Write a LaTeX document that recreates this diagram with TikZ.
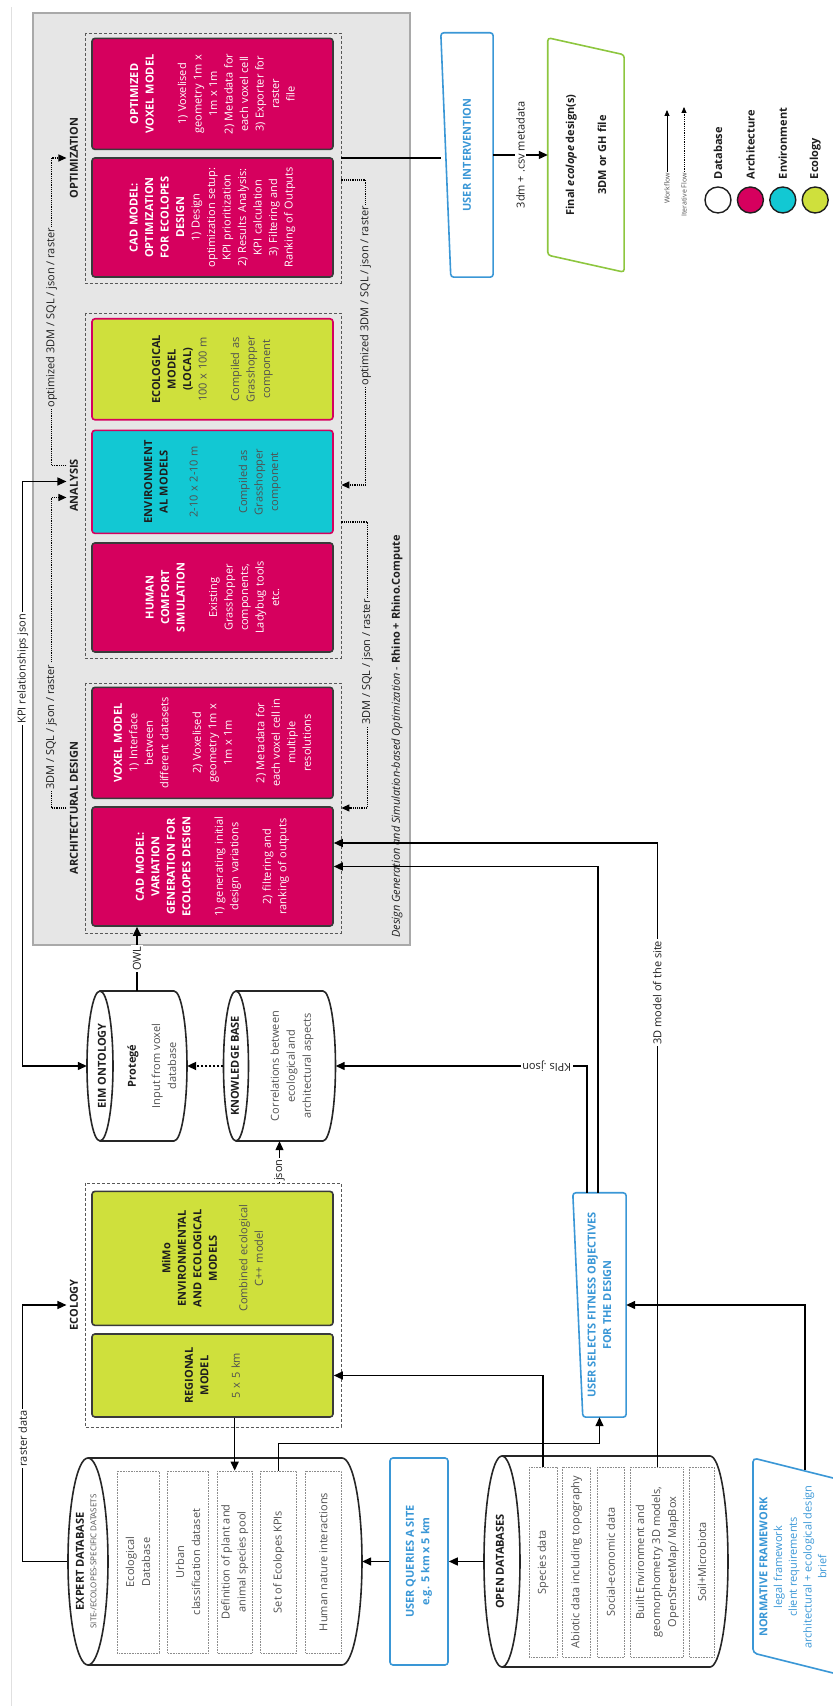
\documentclass[tikz,border=0pt]{standalone}
\usepackage{fontspec}
\setmainfont{Open Sans}
\usetikzlibrary{positioning,arrows.meta,calc}

\definecolor{archmag}{HTML}{D6005E}
\definecolor{envcyan}{HTML}{12C8D3}
\definecolor{ecogreen}{HTML}{CFE03C}
\definecolor{userblue}{HTML}{3A97D6}
\definecolor{finalgreen}{HTML}{8DC63F}
\definecolor{designfill}{HTML}{E6E6E6}
\definecolor{designline}{HTML}{A9A9A9}
\definecolor{boxline}{HTML}{3A3A3A}
\definecolor{titleink}{HTML}{1E1E1E}
\definecolor{bodyink}{HTML}{505050}
\definecolor{itemline}{HTML}{8C8C8C}

\newcommand{\boxfont}{\fontsize{11}{15.5}\selectfont}
\newcommand{\itemfont}{\fontsize{11}{16}\selectfont}

% database drum: centre x, x radius, top y, bottom y, y radius
\newcommand{\dbdrum}[5]{%
  \draw[dbline] (#1-#2,#3) -- (#1-#2,#4) arc[start angle=180, end angle=360, x radius=#2, y radius=#5] -- (#1+#2,#3);
  \draw[dbline] (#1,#3) ellipse [x radius=#2, y radius=#5];}

\tikzstyle{designarea} = [draw=designline, fill=designfill, line width=2pt, minimum width=932pt, minimum height=377pt]
\tikzstyle{grpbox} = [draw=boxline!85, dash pattern=on 3pt off 2pt, line width=0.8pt, minimum height=256pt]
\tikzstyle{archbox} = [draw=boxline, line width=1.6pt, rounded corners=3pt, fill=archmag, text=white, minimum height=241pt, inner xsep=3pt, align=center, font=\boxfont]
\tikzstyle{envbox} = [archbox, fill=envcyan, draw=archmag, text=bodyink]
\tikzstyle{ecobox} = [archbox, fill=ecogreen, text=bodyink]
\tikzstyle{ecolocbox} = [ecobox, draw=archmag]
\tikzstyle{grplabel} = [font=\bfseries\fontsize{11}{13}\selectfont, text=titleink]
\tikzstyle{dbitem} = [draw=itemline, densely dotted, line width=0.6pt, align=center, font=\itemfont, text=bodyink, inner sep=1pt]
\tikzstyle{dbline} = [draw=black!85, line width=1.6pt, fill=white]
\tikzstyle{dbspan} = [draw=none, inner sep=0pt]
\tikzstyle{dbtitle} = [font=\bfseries\fontsize{11}{13}\selectfont, text=titleink, inner sep=1pt]
\tikzstyle{dbtext} = [align=center, font=\itemfont, text=bodyink]
\tikzstyle{userbox} = [draw=none, align=center, text=userblue, font=\bfseries\boxfont]
\tikzstyle{userline} = [draw=userblue, line width=1.6pt, rounded corners=3pt]
\tikzstyle{flow} = [draw=black, line width=1.4pt, -{Triangle[length=9pt,width=8pt]}]
\tikzstyle{bothflow} = [flow, {Triangle[length=9pt,width=8pt]}-{Triangle[length=9pt,width=8pt]}]
\tikzstyle{kbflow} = [draw=black, line width=2pt, dotted, -{Triangle[length=9pt,width=8pt]}]
\tikzstyle{iterflow} = [draw=black, line width=1.2pt, densely dotted, -{Triangle[length=8pt,width=7pt]}]
\tikzstyle{flowlabel} = [font=\fontsize{11}{13}\selectfont, text=titleink, inner sep=1.5pt]
\tikzstyle{legdot} = [circle, draw=titleink, line width=1.4pt, minimum size=26pt, inner sep=0pt]
\tikzstyle{legtext} = [font=\bfseries\fontsize{11}{13}\selectfont, text=titleink, inner sep=0pt]
\tikzstyle{legsmall} = [font=\fontsize{7}{8}\selectfont, text=bodyink, anchor=east, inner sep=1pt]

\begin{document}
\begin{tikzpicture}[x=1pt, y=1pt, rotate=90, transform shape]
\useasboundingbox (0,0) rectangle (1708,833);
\draw[black!12, line width=0.8pt] (2,822) -- (1701,822);

% design generation area
\node[designarea] (design) at (1229,611.5) {};
\node[anchor=west, font=\fontsize{11}{13}\selectfont, text=titleink, inner sep=0pt] (caption) at (770,436)
  {\itshape Design Generation and Simulation-based Optimization - \upshape\bfseries Rhino + Rhino.Compute};

\node[grpbox, minimum width=250pt] (archgrp) at (900,620) {};
\node[grpbox, minimum width=345pt] (anagrp) at (1222.5,620) {};
\node[grpbox, minimum width=250pt] (optgrp) at (1550,620) {};
\node[grpbox, minimum width=244pt] (ecogrp) at (403,620) {};

\node[grplabel, above=3pt of archgrp] (archlab) {ARCHITECTURAL DESIGN};
\node[grplabel, above=3pt of anagrp] (analab) {ANALYSIS};
\node[grplabel, above=3pt of optgrp] (optlab) {OPTIMIZATION};
\node[grplabel, above=3pt of ecogrp] (ecolab) {ECOLOGY};

% architectural design
\node[archbox, text width=113pt] (cadvar) at (841.5,620.5) {{\bfseries CAD MODEL:\\VARIATION\\GENERATION FOR\\ECOLOPES DESIGN}\\[17pt]1) generating initial\\design variations\\[17pt]2) filtering and\\ranking of outputs};
\node[archbox, text width=105pt, right=7pt of cadvar] (voxel) {{\bfseries VOXEL MODEL}\\1) Interface\\between\\different datasets\\[17pt]2) Voxelised\\geometry 1m x\\1m x 1m\\[17pt]2) Metadata for\\each voxel cell in\\multiple\\resolutions};

% analysis
\node[archbox, text width=103pt] (comfort) at (1110.5,620.5) {{\bfseries HUMAN\\COMFORT\\SIMULATION}\\[17pt]Existing\\Grasshopper\\components,\\Ladybug tools\\etc.};
\node[envbox, text width=97pt, right=8pt of comfort] (envmod) {{\bfseries\color{titleink}ENVIRONMENT\\AL MODELS}\\[14.5pt]2-10 x 2-10 m\\[34pt]Compiled as\\Grasshopper\\component};
\node[ecolocbox, text width=95pt, right=9pt of envmod] (ecolocal) {{\bfseries\color{titleink}ECOLOGICAL\\MODEL\\(LOCAL)}\\100 x 100 m\\[17pt]Compiled as\\Grasshopper\\component};

% optimization
\node[archbox, text width=113pt] (cadopt) at (1490.5,620.5) {{\bfseries CAD MODEL:\\OPTIMIZATION\\FOR ECOLOPES\\DESIGN}\\1) Design\\optimization setup:\\KPI prioritization\\2) Results Analysis:\\KPI calculation\\3) Filtering and\\Ranking of Outputs};
\node[archbox, text width=105pt, right=7pt of cadopt] (optvoxel) {{\bfseries OPTIMIZED\\VOXEL MODEL}\\[17pt]1) Voxelised\\geometry 1m x\\1m x 1m\\2) Metadata for\\each voxel cell\\3) Exporter for\\raster\\file};

% ecology
\node[ecobox, text width=77pt] (regional) at (332.5,620.5) {{\bfseries\color{titleink}REGIONAL\\MODEL}\\[16pt]5 x 5 km};
\node[ecobox, text width=128pt, right=7pt of regional] (mimo) {{\bfseries\color{titleink}MiMo\\ENVIRONMENTAL\\AND ECOLOGICAL\\MODELS}\\[15pt]Combined ecological\\C++ model};

% expert database
\dbdrum{146.5}{103.5}{745}{491}{20}
\node[dbspan, minimum width=207pt, minimum height=295pt] (xdb) at (146.5,618.5) {};
\node[dbtitle] (xdbtitle) at (146.5,753) {EXPERT DATABASE};
\node[dbtitle, font=\fontsize{8}{9}\selectfont, text=bodyink] (xdbsub) at (146.5,739.5) {SITE-/ECOLOPES-SPECIFIC DATASETS};
\node[dbitem, minimum width=182pt, minimum height=42pt] (ecodb) at (146,695) {Ecological\\Database};
\node[dbitem, minimum width=182pt, minimum height=41pt, below=8pt of ecodb] (urban) {Urban\\classification dataset};
\node[dbitem, minimum width=182pt, minimum height=35pt, below=8pt of urban] (defin) {Definition of plant and\\animal species pool};
\node[dbitem, minimum width=182pt, minimum height=36pt, below=8pt of defin] (kpis) {Set of Ecolopes KPIs};
\node[dbitem, minimum width=182pt, minimum height=36pt, below=8pt of kpis] (human) {Human nature interactions};

% open databases
\dbdrum{146.5}{105.5}{331}{123}{18}
\node[dbspan, minimum width=211pt, minimum height=244pt] (opendb) at (146.5,227) {};
\node[dbtitle] (opentitle) at (146.5,333) {OPEN DATABASES};
\node[dbitem, minimum width=190pt, minimum height=28pt] (species) at (146,290) {Species data};
\node[dbitem, minimum width=190pt, minimum height=28pt, below=5pt of species] (abiotic) {Abiotic data including topography};
\node[dbitem, minimum width=190pt, minimum height=27pt, below=6pt of abiotic] (social) {Social-economic data};
\node[dbitem, minimum width=190pt, minimum height=53pt, below=6pt of social] (builtenv) {Built Environment and\\geomorphometry 3D models,\\OpenStreetMap/ MapBox};
\node[dbitem, minimum width=190pt, minimum height=25pt, below=5pt of builtenv] (soil) {Soil+Microbiota};

% ontology and knowledge base
\dbdrum{642}{75}{733}{659}{13}
\node[dbspan, minimum width=150pt, minimum height=100pt] (eim) at (642,696) {};
\node[dbtitle] (eimtitle) at (642,731) {EIM ONTOLOGY};
\node[dbtitle] (protege) at (642,700) {Protegé};
\node[dbtext] (eimtext) at (642,669) {Input from voxel\\database};
\dbdrum{642}{75}{597}{510}{12.5}
\node[dbspan, minimum width=150pt, minimum height=112pt] (kb) at (642,553.5) {};
\node[dbtitle] (kbtitle) at (642,598) {KNOWLEDGE BASE};
\node[dbtext] (kbtext) at (642,541) {Correlations between\\ecological and\\architectural aspects};

% user steps
\node[userbox, draw=userblue, line width=1.6pt, rounded corners=3pt, minimum width=207pt, minimum height=58pt] (query) at (146.5,414) {USER QUERIES A SITE\\e.g. 5 km x 5 km};
\node[userbox, minimum width=224pt, minimum height=53pt] (select) at (403,233.5) {USER SELECTS FITNESS OBJECTIVES\\FOR THE DESIGN};
\draw[userline] (select.south west) -- ($(select.north west)+(0,-10)$) -- (select.north east) -- (select.south east) -- cycle;
\node[userbox, minimum width=244pt, minimum height=52pt] (interv) at (1553,366) {USER INTERVENTION};
\draw[userline] (interv.south west) -- ($(interv.north west)+(0,-10)$) -- (interv.north east) -- (interv.south east) -- cycle;
\node[align=center, font=\bfseries\boxfont, text=titleink, minimum width=234pt, minimum height=76pt] (final) at (1553,247) {Final \emph{ecolope} design(s)\\[16.5pt]3DM or GH file};
\draw[draw=finalgreen, line width=1.6pt, rounded corners=3pt] (final.south west) -- ($(final.north west)+(17,0)$) -- (final.north east) -- ($(final.south east)+(-17,0)$) -- cycle;

\node[align=center, text=userblue, font=\fontsize{11}{14.75}\selectfont, inner sep=0pt] (norm) at (141,40) {\textbf{NORMATIVE FRAMEWORK}\\legal framework\\client requirements\\architectural + ecological design\\brief};
\begin{scope}
  \clip (0,0) rectangle (1708,833);
  \draw[userline, rounded corners=4pt] (30,-20) -- (55,80) -- (250,80) -- (225,-20);
\end{scope}
\coordinate (normout) at (238,28);

% workflow
\draw[flow] (query) -- (xdb.south);
\draw[flow] (opendb.north) -- (query);
\draw[flow] (species.east) -| (regional.south);
\draw[flow] (regional.west |- defin.east) -- (defin.east);
\draw[flow] (kpis.east) -- ++(27,0) |- (select.west);
\draw[flow] (xdb.north) -- ++(0,44) -| node[pos=0.24, flowlabel, fill=white] {raster data} (ecolab.north);
\draw[bothflow] (eim.north) -- ++(0,64) -| node[pos=0.34, flowlabel, fill=white] {KPI relationships json} ($(analab.north)+(4,0)$);
\draw[flow] (eim.east) -- node[flowlabel, fill=white] {OWL} (eim.east -| cadvar.west);
\draw[kbflow] (kb.north) -- (eim.south);
\draw[flow, line width=1pt] (ecogrp.east |- kb.west) -- node[pos=0.3, flowlabel, fill=white] {json} (kb.west);
\draw[flow] ($(select.east)+(0,12.5)$) -| node[pos=0.58, flowlabel, fill=white, rotate=90] {KPIs .json} (kb.south);
\draw[flow] ($(select.east)+(0,1.5)$) -| (cadvar.south);
\draw[flow] (builtenv.east) -| node[pos=0.38, flowlabel, fill=white] {3D model of the site} ($(cadvar.south)+(23.5,0)$);
\draw[flow] (normout) -| (select.south);
\draw[draw=black, line width=1.4pt] (optgrp.south) -- (optgrp.south |- interv.north);
\draw[flow] (interv) -- node[flowlabel, fill=white] {3dm + .csv metadata} (final);

% iterative flow
\draw[iterflow] (archlab.north) -- ++(0,15) -| node[pos=0.13, flowlabel, fill=designfill] {3DM / SQL / json / raster} ($(analab.north)+(-12,0)$);
\draw[iterflow] ($(analab.north)+(20,0)$) -- ++(0,15) -| node[pos=0.24, flowlabel, fill=designfill] {optimized 3DM / SQL / json / raster} (optlab.north);
\draw[iterflow] ($(anagrp.south)+(-36.5,0)$) -- ++(0,-26) -| node[pos=0.245, flowlabel, fill=designfill] {3DM / SQL / json / raster} (archgrp.south);
\draw[iterflow] ($(optgrp.south)+(-22,0)$) -- ++(0,-24) -| node[pos=0.19, flowlabel, fill=designfill] {optimized 3DM / SQL / json / raster} ($(anagrp.south)+(0.5,0)$);

% legend
\node[legsmall] (wflab) at (1536,166) {Workflow};
\coordinate (wfend) at (1598,166);
\draw[draw=black, line width=0.8pt, -{Triangle[length=6pt,width=5pt]}] (wflab) -- (wfend);
\node[legsmall] (itlab) at (1536,149) {Iterative Flow};
\coordinate (itend) at (1601,149);
\draw[draw=black, line width=0.8pt, densely dotted, -{Triangle[length=6pt,width=5pt]}] (itlab) -- (itend);
\node[legdot, fill=white] (legdb) at (1508,115) {};
\node[legdot, fill=archmag, below=5pt of legdb] (legarch) {};
\node[legdot, fill=envcyan, below=5pt of legarch] (legenv) {};
\node[legdot, fill=ecogreen, below=5pt of legenv] (legeco) {};
\node[legtext, right=7pt of legdb] (legdbtxt) {Database};
\node[legtext, right=7pt of legarch] (legarchtxt) {Architecture};
\node[legtext, right=7pt of legenv] (legenvtxt) {Environment};
\node[legtext, right=7pt of legeco] (legecotxt) {Ecology};
\end{tikzpicture}
\end{document}
